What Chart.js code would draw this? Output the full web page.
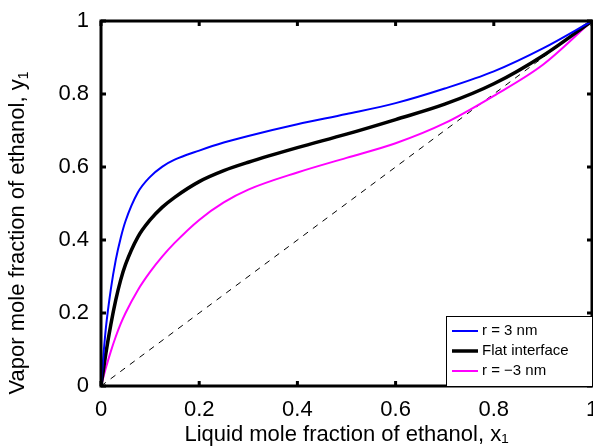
<!DOCTYPE html>
<html>
<head>
  <title>Ethanol VLE</title>
  <script src="https://cdn.jsdelivr.net/npm/chart.js"></script>
  <style>
    html, body { margin: 0; padding: 0; background: #fff; }
    #wrap { width: 593px; height: 448px; position: relative; }
  </style>
</head>
<body>
  <div id="wrap"><canvas id="vleChart"></canvas></div>

  <script>
    // liquid mole fraction x1
    const x1 = [0, 0.005, 0.01, 0.02, 0.03, 0.04, 0.05, 0.075, 0.1, 0.125, 0.15, 0.2, 0.25, 0.3, 0.4, 0.5, 0.6, 0.7, 0.8, 0.9, 1];
    // vapor mole fraction y1 for each case
    const yPos3nm = [0, 0.085, 0.16, 0.265, 0.345, 0.405, 0.452, 0.53, 0.573, 0.601, 0.62, 0.645, 0.667, 0.685, 0.717, 0.745, 0.775, 0.815, 0.862, 0.925, 1];
    const yFlat = [0, 0.045, 0.09, 0.168, 0.235, 0.29, 0.333, 0.408, 0.455, 0.49, 0.517, 0.56, 0.59, 0.613, 0.653, 0.69, 0.73, 0.772, 0.828, 0.905, 1];
    const yNeg3nm = [0, 0.025, 0.05, 0.095, 0.135, 0.17, 0.2, 0.2625, 0.3125, 0.355, 0.392, 0.455, 0.503, 0.538, 0.585, 0.625, 0.665, 0.72, 0.795, 0.88, 1];
    const diagX = [0, 1];
    const labels = ['r = 3 nm', 'Flat interface', 'r = \u22123 nm'];
    const tickVals = [0, 0.2, 0.4, 0.6, 0.8, 1];

    const pts = (xs, ys) => xs.map((x, i) => ({ x: x, y: ys[i] }));
    const fmt = v => (v === 0 || v === 1) ? String(v) : v.toFixed(1);
    const FONT = '"Liberation Sans", Arial, sans-serif';

    // box, inward ticks, y title and legend drawn over the chart area
    const framePlugin = {
      id: 'frame',
      afterDatasetsDraw(chart) {
        const ctx = chart.ctx;
        const a = chart.chartArea;
        const xs = chart.scales.x, ys = chart.scales.y;
        ctx.save();
        ctx.strokeStyle = '#000';
        ctx.lineWidth = 3;
        ctx.strokeRect(a.left, a.top, a.right - a.left, a.bottom - a.top);
        tickVals.forEach(v => {
          const px = xs.getPixelForValue(v);
          const py = ys.getPixelForValue(v);
          ctx.beginPath();
          ctx.moveTo(px, a.bottom); ctx.lineTo(px, a.bottom - 5);
          ctx.moveTo(px, a.top); ctx.lineTo(px, a.top + 5);
          ctx.moveTo(a.left, py); ctx.lineTo(a.left + 5, py);
          ctx.moveTo(a.right, py); ctx.lineTo(a.right - 5, py);
          ctx.stroke();
        });

        // legend box
        const lx = 446, ly = 316, lw = a.right - lx, lh = a.bottom - ly;
        ctx.fillStyle = '#fff';
        ctx.fillRect(lx, ly, lw, lh);
        ctx.lineWidth = 1;
        ctx.strokeRect(lx + 0.5, ly + 0.5, lw, lh);
        ctx.font = '15px ' + FONT;
        ctx.textBaseline = 'middle';
        chart.data.datasets.slice(0, 3).forEach((ds, i) => {
          const ry = ly + 15 + i * 20;
          ctx.strokeStyle = ds.borderColor;
          ctx.lineWidth = ds.borderWidth;
          ctx.beginPath();
          ctx.moveTo(452, ry); ctx.lineTo(478, ry);
          ctx.stroke();
          ctx.fillStyle = '#000';
          ctx.fillText(ds.label, 482, ry);
        });

        // y axis title with subscript
        ctx.translate(18, 233);
        ctx.rotate(-Math.PI / 2);
        ctx.fillStyle = '#000';
        ctx.font = '22px ' + FONT;
        const main = 'Vapor mole fraction of ethanol, y';
        const w1 = ctx.measureText(main).width;
        ctx.font = '14px ' + FONT;
        const w2 = ctx.measureText('1').width;
        const start = -(w1 + w2) / 2;
        ctx.font = '22px ' + FONT;
        ctx.fillText(main, start, 0);
        ctx.font = '14px ' + FONT;
        ctx.fillText('1', start + w1, 6);
        ctx.restore();
      }
    };

    new Chart(document.getElementById('vleChart'), {
      type: 'scatter',
      data: {
        datasets: [
          { label: labels[0], data: pts(x1, yPos3nm), borderColor: '#0000ff', borderWidth: 2, showLine: true, pointRadius: 0, cubicInterpolationMode: 'monotone' },
          { label: labels[1], data: pts(x1, yFlat), borderColor: '#000000', borderWidth: 3.5, showLine: true, pointRadius: 0, cubicInterpolationMode: 'monotone' },
          { label: labels[2], data: pts(x1, yNeg3nm), borderColor: '#ff00ff', borderWidth: 2, showLine: true, pointRadius: 0, cubicInterpolationMode: 'monotone' },
          { label: 'diag', data: pts(diagX, diagX), borderColor: '#000000', borderWidth: 1, borderDash: [6, 6], showLine: true, pointRadius: 0 }
        ]
      },
      options: {
        responsive: true,
        maintainAspectRatio: false,
        animation: false,
        layout: { autoPadding: false, padding: { left: 0, right: 1, top: 21, bottom: 0 } },
        plugins: {
          legend: { display: false },
          tooltip: { enabled: false }
        },
        scales: {
          x: {
            type: 'linear', min: 0, max: 1,
            afterFit: s => { s.height = 62; s.paddingLeft = 0; s.paddingRight = 0; },
            afterBuildTicks: s => { s.ticks = tickVals.map(v => ({ value: v })); },
            grid: { display: false },
            border: { display: false },
            ticks: { color: '#000', padding: 3, maxRotation: 0, callback: fmt, font: { size: 22, family: FONT } },
            title: {
              display: true,
              text: 'Liquid mole fraction of ethanol, x\u2081',
              color: '#000',
              padding: { top: -6, bottom: 0 },
              font: { size: 22, family: FONT }
            }
          },
          y: {
            type: 'linear', min: 0, max: 1,
            afterFit: s => { s.width = 101; s.paddingTop = 0; s.paddingBottom = 0; },
            afterBuildTicks: s => { s.ticks = tickVals.map(v => ({ value: v })); },
            grid: { display: false },
            border: { display: false },
            ticks: { color: '#000', padding: 4, callback: fmt, font: { size: 22, family: FONT } }
          }
        }
      },
      plugins: [framePlugin]
    });
  </script>
</body>
</html>
